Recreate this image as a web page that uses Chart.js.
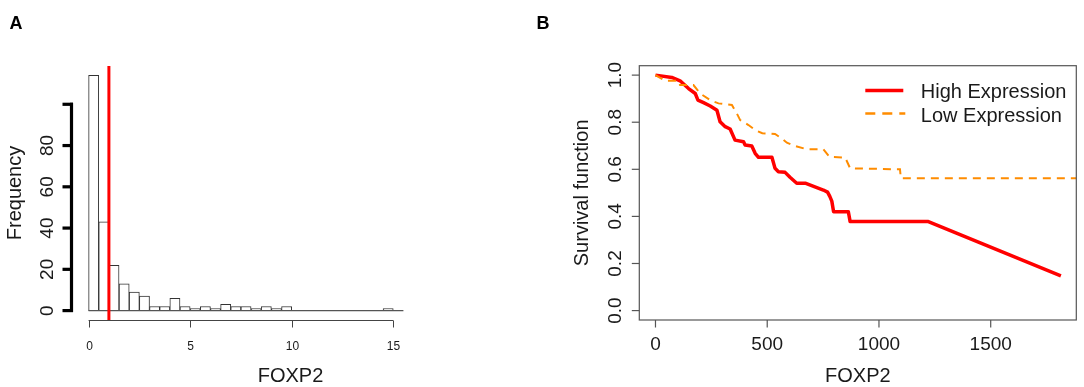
<!DOCTYPE html>
<html>
<head>
<meta charset="utf-8">
<script src="https://cdn.jsdelivr.net/npm/chart.js@4.4.1/dist/chart.umd.min.js"></script>
<style>
  html, body { margin: 0; padding: 0; background: #fff; }
  #wrap { position: relative; width: 1084px; height: 387px; overflow: hidden; }
  canvas { position: absolute; top: 0; }
  #histA { left: 0; }
  #survB { left: 520px; }
</style>
</head>
<body>
<div id="wrap">
  <canvas id="histA" width="520" height="387"></canvas>
  <canvas id="survB" width="564" height="387"></canvas>
</div>
<script>
// ---- panel A: histogram of FOXP2 ----
const binStarts = [0, 0.5, 1, 1.5, 2, 2.5, 3, 3.5, 4, 4.5, 5, 5.5, 6, 6.5, 7, 7.5,
                   8, 8.5, 9, 9.5, 10, 10.5, 11, 11.5, 12, 12.5, 13, 13.5, 14, 14.5, 15];
const binWidth = 0.5;
const binCounts = [114, 43, 22, 13, 9, 7, 2, 2, 6, 2, 1, 2, 1, 3, 2, 2,
                   1, 2, 1, 2, 0, 0, 0, 0, 0, 0, 0, 0, 0, 1, 0];
const cutoff = 1;
const freqTicks = [0, 20, 40, 60, 80, 100];
const freqLabels = ['0', '20', '40', '60', '80', ''];
const foxTicks = [0, 5, 10, 15];

// ---- panel B: survival curves ----
const highDays = [0, 73, 110, 148, 178, 190, 215, 245, 275, 289, 312, 334, 356, 394, 401, 431,
                  446, 461, 521, 535, 550, 580, 602, 632, 670, 751, 770, 780, 789, 797, 863, 871,
                  1221, 1814];
const highSurv = [1.0, 0.99, 0.976, 0.943, 0.922, 0.894, 0.883, 0.869, 0.851, 0.802, 0.781, 0.771,
                  0.724, 0.717, 0.703, 0.699, 0.668, 0.651, 0.651, 0.604, 0.59, 0.587, 0.566, 0.541,
                  0.541, 0.512, 0.503, 0.485, 0.465, 0.42, 0.42, 0.378, 0.378, 0.147];
const lowDays = [0, 43, 103, 110, 170, 200, 245, 282, 342, 364, 379, 416, 446, 478, 535, 565,
                 588, 625, 677, 751, 778, 849, 871, 1094, 1098, 1900];
const lowSurv = [1.0, 0.976, 0.976, 0.958, 0.958, 0.922, 0.894, 0.88, 0.873, 0.837, 0.809, 0.788,
                 0.767, 0.753, 0.75, 0.731, 0.713, 0.699, 0.685, 0.685, 0.653, 0.65, 0.604, 0.6,
                 0.562, 0.562];
const dayTicks = [0, 500, 1000, 1500];
const survTicks = [0, 0.2, 0.4, 0.6, 0.8, 1.0];

const FONT = '"Liberation Sans", Arial, Helvetica, sans-serif';

function rotatedText(ctx, text, x, y) {
  ctx.save();
  ctx.translate(x, y);
  ctx.rotate(-Math.PI / 2);
  ctx.textAlign = 'center';
  ctx.textBaseline = 'alphabetic';
  ctx.fillText(text, 0, 0);
  ctx.restore();
}

const axesA = {
  id: 'axesA',
  afterDraw(chart) {
    const { ctx, chartArea, scales: { x, y } } = chart;
    ctx.save();
    // R style left axis, thick and offset
    const ax = chartArea.left - 4.5;
    ctx.strokeStyle = '#000';
    ctx.lineWidth = 3.2;
    ctx.beginPath();
    ctx.moveTo(ax, y.getPixelForValue(freqTicks[0]) + 1.5);
    ctx.lineTo(ax, y.getPixelForValue(freqTicks[freqTicks.length - 1]) - 1.5);
    ctx.stroke();
    ctx.fillStyle = '#1a1a1a';
    ctx.font = '19px ' + FONT;
    freqTicks.forEach((v, i) => {
      const py = y.getPixelForValue(v);
      ctx.beginPath();
      ctx.moveTo(ax - 9, py);
      ctx.lineTo(ax + 1.5, py);
      ctx.stroke();
      if (freqLabels[i]) rotatedText(ctx, freqLabels[i], 53, py);
    });
    ctx.font = '20px ' + FONT;
    rotatedText(ctx, 'Frequency', 21, (chartArea.top + chartArea.bottom) / 2);

    // bottom axis
    const by = chartArea.bottom + 0.5;
    ctx.strokeStyle = '#444';
    ctx.lineWidth = 1;
    ctx.beginPath();
    ctx.moveTo(x.getPixelForValue(foxTicks[0]), by);
    ctx.lineTo(x.getPixelForValue(foxTicks[foxTicks.length - 1]), by);
    ctx.stroke();
    ctx.font = '12px ' + FONT;
    ctx.textAlign = 'center';
    ctx.textBaseline = 'alphabetic';
    foxTicks.forEach(v => {
      const px = Math.round(x.getPixelForValue(v)) + 0.5;
      ctx.beginPath();
      ctx.moveTo(px, by);
      ctx.lineTo(px, by + 7);
      ctx.stroke();
      ctx.fillText(String(v), px, 349.5);
    });
    ctx.font = '20px ' + FONT;
    ctx.fillText('FOXP2', 290.5, 381.5);

    ctx.font = 'bold 18px ' + FONT;
    ctx.textAlign = 'left';
    ctx.fillStyle = '#000';
    ctx.fillText('A', 9.5, 28.5);
    ctx.restore();
  }
};

new Chart(document.getElementById('histA'), {
  data: {
    datasets: [
      {
        type: 'line',
        label: 'cutoff',
        data: [{ x: cutoff, y: -4.56 }, { x: cutoff, y: 118.56 }],
        borderColor: '#ff0000',
        borderWidth: 3,
        pointRadius: 0,
        order: 0
      },
      {
        type: 'line',
        label: 'base',
        data: [{ x: binStarts[0], y: 0 }, { x: binStarts[binStarts.length - 1] + binWidth, y: 0 }],
        borderColor: '#555',
        borderWidth: 1.2,
        pointRadius: 0,
        order: 1
      },
      {
        type: 'bar',
        label: 'Frequency',
        data: binStarts.map((s, i) => ({ x: s + binWidth / 2, y: binCounts[i] })),
        backgroundColor: '#fff',
        borderColor: '#333',
        borderWidth: 1,
        borderSkipped: false,
        barPercentage: 1,
        categoryPercentage: 1,
        order: 2
      }
    ]
  },
  options: {
    responsive: false,
    animation: false,
    layout: { padding: { left: 76, right: 104, top: 66, bottom: 67 } },
    plugins: { legend: { display: false }, tooltip: { enabled: false } },
    scales: {
      x: { type: 'linear', min: -0.62, max: 16.12, offset: false, display: false },
      y: { type: 'linear', min: -4.56, max: 118.56, display: false }
    }
  },
  plugins: [axesA]
});

const axesB = {
  id: 'axesB',
  afterDraw(chart) {
    const { ctx, chartArea, scales: { x, y } } = chart;
    const ds = chart.data.datasets;
    ctx.save();
    ctx.strokeStyle = '#555';
    ctx.lineWidth = 1.2;
    ctx.strokeRect(chartArea.left, chartArea.top, chartArea.right - chartArea.left, chartArea.bottom - chartArea.top);

    ctx.fillStyle = '#1a1a1a';
    ctx.font = '19px ' + FONT;
    ctx.textAlign = 'center';
    ctx.textBaseline = 'alphabetic';
    dayTicks.forEach(v => {
      const px = x.getPixelForValue(v);
      ctx.beginPath();
      ctx.moveTo(px, chartArea.bottom);
      ctx.lineTo(px, chartArea.bottom + 7.5);
      ctx.stroke();
      ctx.fillText(String(v), px, 350);
    });
    survTicks.forEach(v => {
      const py = y.getPixelForValue(v);
      ctx.beginPath();
      ctx.moveTo(chartArea.left, py);
      ctx.lineTo(chartArea.left - 7.5, py);
      ctx.stroke();
      rotatedText(ctx, v.toFixed(1), chartArea.left - 18, py);
    });
    ctx.font = '20px ' + FONT;
    rotatedText(ctx, 'Survival function', chartArea.left - 51, (chartArea.top + chartArea.bottom) / 2);
    ctx.fillText('FOXP2', (chartArea.left + chartArea.right) / 2, 382);

    // legend
    const lx0 = chartArea.left + 226, lx1 = lx0 + 38, tx = lx0 + 55.5;
    ctx.lineWidth = 3.5;
    ctx.strokeStyle = ds[1].borderColor;
    ctx.beginPath();
    ctx.moveTo(lx0, 90.5);
    ctx.lineTo(lx1, 90.5);
    ctx.stroke();
    ctx.lineWidth = 2.6;
    ctx.strokeStyle = ds[0].borderColor;
    ctx.setLineDash([10, 7]);
    ctx.beginPath();
    ctx.moveTo(lx0, 113.5);
    ctx.lineTo(lx1 + 2, 113.5);
    ctx.stroke();
    ctx.setLineDash([]);
    ctx.textAlign = 'left';
    ctx.fillText(ds[1].label, tx, 97.5);
    ctx.fillText(ds[0].label, tx, 121.7);

    ctx.font = 'bold 18px ' + FONT;
    ctx.fillStyle = '#000';
    ctx.fillText('B', 16.5, 28.5);
    ctx.restore();
  }
};

new Chart(document.getElementById('survB'), {
  type: 'line',
  data: {
    datasets: [
      {
        label: 'Low Expression',
        data: lowDays.map((d, i) => ({ x: d, y: lowSurv[i] })),
        borderColor: '#ff8c00',
        borderWidth: 2,
        borderDash: [8, 6],
        pointRadius: 0,
        tension: 0,
        clip: 0,
        order: 0
      },
      {
        label: 'High Expression',
        data: highDays.map((d, i) => ({ x: d, y: highSurv[i] })),
        borderColor: '#ff0000',
        borderWidth: 3.5,
        borderJoinStyle: 'round',
        pointRadius: 0,
        tension: 0,
        order: 1
      }
    ]
  },
  options: {
    responsive: false,
    animation: false,
    layout: { padding: { left: 119.3, right: 7.7, top: 65.7, bottom: 67 } },
    plugins: { legend: { display: false }, tooltip: { enabled: false } },
    scales: {
      x: { type: 'linear', min: -72.4, max: 1883, display: false },
      y: { type: 'linear', min: -0.04, max: 1.04, display: false }
    }
  },
  plugins: [axesB]
});
</script>
</body>
</html>
